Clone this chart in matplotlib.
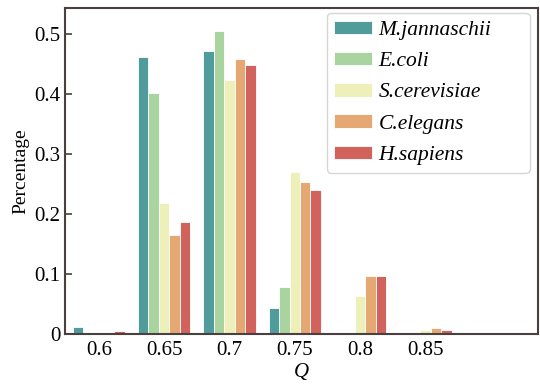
import numpy as np
import matplotlib
matplotlib.use("Agg")
import matplotlib.pyplot as plt

plt.rcParams['font.family'] = ['Liberation Serif', 'DejaVu Serif']

# ---------------------------
# data
# ---------------------------
q_labels = ['0.6', '0.65', '0.7', '0.75', '0.8', '0.85']
species = ['M.jannaschii', 'E.coli', 'S.cerevisiae', 'C.elegans', 'H.sapiens']
m_jannaschii = [0.012, 0.463, 0.472, 0.043, 0.0, 0.0]
e_coli = [0.0, 0.402, 0.506, 0.078, 0.0, 0.0]
s_cerevisiae = [0.0, 0.219, 0.424, 0.271, 0.064, 0.006]
c_elegans = [0.0, 0.165, 0.459, 0.254, 0.097, 0.010]
h_sapiens = [0.0055, 0.187, 0.449, 0.240, 0.097, 0.007]
colors = ['#509b9c', '#a9d4a0', '#eef0b9', '#e6a872', '#d1625c']

series = [m_jannaschii, e_coli, s_cerevisiae, c_elegans, h_sapiens]

fig = plt.figure(figsize=(5.4, 3.86), dpi=100)
ax = fig.add_axes([0.120, 0.135, 0.876, 0.844])

x = np.arange(len(q_labels))
w = 0.16
for i, (vals, name, c) in enumerate(zip(series, species, colors)):
    ax.bar(x + (i - 2) * w, vals, width=w, color=c, edgecolor='white',
           linewidth=0.6, label=name)

ax.set_xlim(-0.52, 6.72)
ax.set_ylim(0, 0.544)
ax.set_xticks(x)
ax.set_xticklabels(q_labels)
ax.set_yticks([0, 0.1, 0.2, 0.3, 0.4, 0.5])
ax.set_yticklabels(['0', '0.1', '0.2', '0.3', '0.4', '0.5'])
ax.tick_params(axis='y', direction='in', length=5, width=1.2, color='#4a4040',
               labelsize=15, pad=3)
ax.tick_params(axis='x', length=0, labelsize=15, pad=5)
for s in ax.spines.values():
    s.set_color('#4a4040')
    s.set_linewidth(1.5)

ax.set_ylabel('Percentage', fontsize=14, labelpad=4)
ax.set_xlabel('Q', fontsize=15, style='italic', labelpad=2)

# legend box stretched to the reference width
leg = ax.legend(loc='upper left', mode='expand',
                bbox_to_anchor=(0.554, 0.49, 0.429, 0.495), borderaxespad=0,
                prop={'style': 'italic', 'size': 15.5},
                handlelength=1.75, handleheight=0.6, labelspacing=0.55,
                handletextpad=0.3, borderpad=0.35, fancybox=True)
leg.get_frame().set_edgecolor('#cccccc')
leg.get_frame().set_linewidth(1.0)

plt.savefig('out.png', dpi=100)
